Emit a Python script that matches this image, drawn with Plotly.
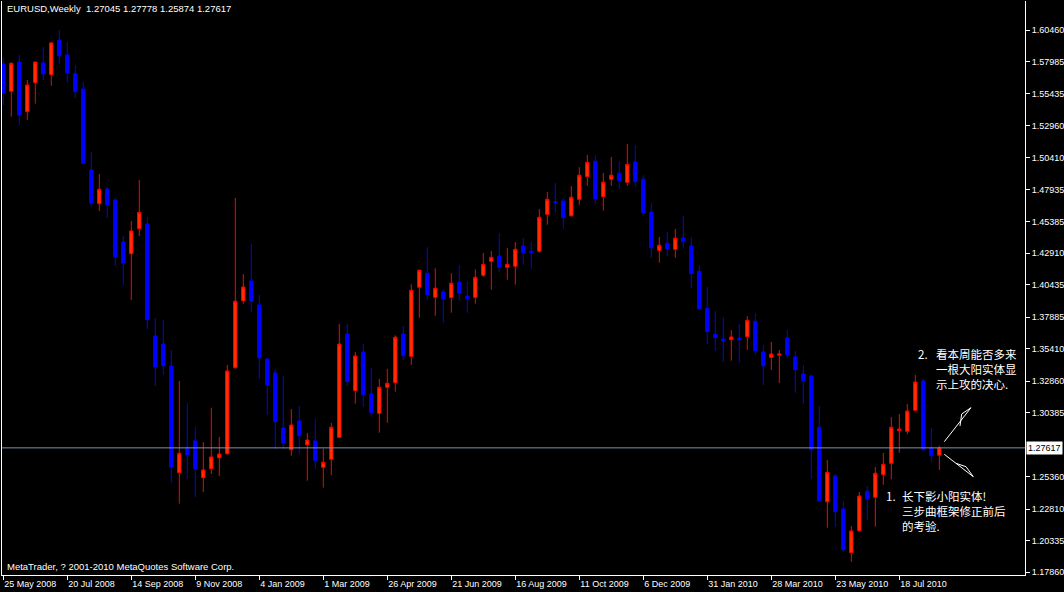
import plotly.graph_objects as go

# ---------------- data (EURUSD weekly) ----------------
opens = [1.5779, 1.5564, 1.5794, 1.5404, 1.5632, 1.5787, 1.5695, 1.5967, 1.5850, 1.5702,
         1.5582, 1.4946, 1.4681, 1.4796, 1.4710, 1.4380, 1.4288, 1.4484, 1.4521, 1.3641,
         1.3578, 1.3405, 1.2566, 1.2766, 1.2816, 1.2527, 1.2598, 1.2684, 1.2716, 1.3392,
         1.3918, 1.4073, 1.3885, 1.3460, 1.3350, 1.2918, 1.2747, 1.2973, 1.2787, 1.2816,
         1.2609, 1.2672, 1.2845, 1.3657, 1.3211, 1.3515, 1.3185, 1.3033, 1.3238, 1.3274,
         1.3657, 1.3481, 1.4024, 1.4134, 1.3945, 1.3987, 1.3943, 1.4063, 1.3955, 1.3945,
         1.4118, 1.4228, 1.4270, 1.4181, 1.4189, 1.4348, 1.4307, 1.4307, 1.4597, 1.4696,
         1.4702, 1.4586, 1.4715, 1.4893, 1.5014, 1.4736, 1.4873, 1.4920, 1.4849, 1.5009,
         1.4873, 1.4615, 1.4314, 1.4370, 1.4322, 1.4411, 1.4348, 1.4149, 1.3859, 1.3654,
         1.3617, 1.3612, 1.3625, 1.3635, 1.3756, 1.3515, 1.3473, 1.3490, 1.3625, 1.3476,
         1.3342, 1.3326, 1.2923, 1.2338, 1.2540, 1.2281, 1.1938, 1.2111, 1.2420, 1.2373,
         1.2551, 1.2640, 1.2897, 1.2892, 1.3057, 1.3287, 1.2763, 1.27045]
highs = [1.5828, 1.5790, 1.5850, 1.5653, 1.5796, 1.5912, 1.5952, 1.6046, 1.5952, 1.5771,
         1.5637, 1.5087, 1.4914, 1.4812, 1.4723, 1.4427, 1.4545, 1.4867, 1.4576, 1.3782,
         1.3767, 1.3531, 1.3287, 1.3114, 1.2926, 1.2808, 1.3077, 1.2847, 1.3413, 1.4726,
         1.4128, 1.4366, 1.3963, 1.3462, 1.3382, 1.3326, 1.3067, 1.3091, 1.2878, 1.2989,
         1.2755, 1.2957, 1.3735, 1.3735, 1.3515, 1.3578, 1.3389, 1.3303, 1.3382, 1.3646,
         1.3719, 1.4047, 1.4165, 1.4338, 1.4173, 1.4008, 1.4134, 1.4199, 1.4073, 1.4165,
         1.4293, 1.4309, 1.4450, 1.4333, 1.4380, 1.4411, 1.4380, 1.4639, 1.4773, 1.4843,
         1.4726, 1.4820, 1.4967, 1.5064, 1.5061, 1.4922, 1.5048, 1.5016, 1.5150, 1.5142,
         1.4904, 1.4686, 1.4419, 1.4458, 1.4482, 1.4584, 1.4419, 1.4199, 1.4026, 1.3837,
         1.3790, 1.3688, 1.3735, 1.3798, 1.3822, 1.3570, 1.3594, 1.3531, 1.3688, 1.3523,
         1.3413, 1.3334, 1.3091, 1.2666, 1.2556, 1.2344, 1.2147, 1.2415, 1.2462, 1.2611,
         1.2721, 1.3004, 1.3028, 1.3106, 1.3334, 1.3303, 1.2920, 1.27778]
lows = [1.5457, 1.5365, 1.5302, 1.5339, 1.5467, 1.5653, 1.5608, 1.5781, 1.5632, 1.5514,
        1.4993, 1.4655, 1.4623, 1.4571, 1.4191, 1.4042, 1.3924, 1.4427, 1.3696, 1.3248,
        1.3334, 1.2488, 1.2323, 1.2517, 1.2375, 1.2415, 1.2556, 1.2540, 1.2706, 1.3382,
        1.3895, 1.3830, 1.3303, 1.3020, 1.2753, 1.2753, 1.2700, 1.2716, 1.2504, 1.2598,
        1.2449, 1.2548, 1.2840, 1.3250, 1.3109, 1.3085, 1.3007, 1.2881, 1.2959, 1.3203,
        1.3455, 1.3415, 1.3785, 1.3926, 1.3800, 1.3745, 1.3824, 1.3926, 1.3824, 1.3895,
        1.4107, 1.4005, 1.4146, 1.4083, 1.4044, 1.4201, 1.4170, 1.4296, 1.4516, 1.4608,
        1.4484, 1.4579, 1.4673, 1.4822, 1.4681, 1.4626, 1.4822, 1.4799, 1.4822, 1.4814,
        1.4586, 1.4256, 1.4217, 1.4270, 1.4256, 1.4335, 1.4021, 1.3850, 1.3580, 1.3525,
        1.3439, 1.3447, 1.3431, 1.3533, 1.3494, 1.3256, 1.3374, 1.3271, 1.3470, 1.3195,
        1.3109, 1.2519, 1.2340, 1.2134, 1.2142, 1.1945, 1.1867, 1.2103, 1.2197, 1.2142,
        1.2472, 1.2515, 1.2724, 1.2868, 1.3049, 1.2739, 1.2653, 1.25874]
closes = [1.5553, 1.5784, 1.5378, 1.5614, 1.5794, 1.5702, 1.5944, 1.5844, 1.5708, 1.5561,
          1.4998, 1.4686, 1.4794, 1.4671, 1.4262, 1.4215, 1.4466, 1.4613, 1.3769, 1.3397,
          1.3407, 1.2611, 1.2719, 1.2708, 1.2596, 1.2588, 1.2690, 1.2713, 1.3366, 1.3914,
          1.4026, 1.3916, 1.3470, 1.3256, 1.2967, 1.2800, 1.2941, 1.2857, 1.2823, 1.2661,
          1.2648, 1.2923, 1.3578, 1.3282, 1.3484, 1.3180, 1.3038, 1.3238, 1.3269, 1.3631,
          1.3486, 1.4000, 1.4157, 1.3966, 1.4016, 1.3934, 1.4055, 1.3977, 1.3934, 1.4102,
          1.4204, 1.4259, 1.4181, 1.4204, 1.4322, 1.4296, 1.4296, 1.4574, 1.4715, 1.4689,
          1.4571, 1.4731, 1.4904, 1.5006, 1.4720, 1.4849, 1.4904, 1.4862, 1.4990, 1.4854,
          1.4610, 1.4335, 1.4354, 1.4327, 1.4409, 1.4382, 1.4131, 1.3855, 1.3675, 1.3628,
          1.3602, 1.3633, 1.3612, 1.3764, 1.3525, 1.3407, 1.3499, 1.3500, 1.3494, 1.3376,
          1.3287, 1.2747, 1.2346, 1.2570, 1.2260, 1.1961, 1.2108, 1.2383, 1.2362, 1.2562,
          1.2632, 1.2923, 1.2910, 1.3051, 1.3279, 1.2747, 1.2700, 1.27617]

date_labels = ["25 May 2008", "20 Jul 2008", "14 Sep 2008", "9 Nov 2008", "4 Jan 2009",
               "1 Mar 2009", "26 Apr 2009", "21 Jun 2009", "16 Aug 2009", "11 Oct 2009",
               "6 Dec 2009", "31 Jan 2010", "28 Mar 2010", "23 May 2010", "18 Jul 2010"]
date_label_bars = [0, 8, 16, 24, 32, 40, 48, 56, 64, 72, 80, 88, 96, 104, 112]

price_ticks = [1.60460, 1.57985, 1.55435, 1.52960, 1.50410, 1.47935, 1.45385, 1.42910,
               1.40435, 1.37885, 1.35410, 1.32860, 1.30385, 1.25360, 1.22810, 1.20335,
               1.17860]
current_price = 1.27617
title_text = "EURUSD,Weekly  1.27045 1.27778 1.25874 1.27617"
footer_text = "MetaTrader, ? 2001-2010 MetaQuotes Software Corp."
note2_lines = ["看本周能否多来", "一根大阳实体显", "示上攻的决心."]
note1_lines = ["长下影小阳实体!", "三步曲框架修正前后", "的考验."]

bars = list(range(len(opens)))

# ---------------- layout geometry ----------------
W, H = 1064, 592
ML, MR, MT, MB = 2, 39, 1, 17
PW, PH = W - ML - MR, H - MT - MB


def px(xp):
    return (xp - ML) / PW


def py(yp):
    return (H - MB - yp) / PH


fig = go.Figure()
fig.add_trace(go.Candlestick(
    x=bars, open=opens, high=highs, low=lows, close=closes,
    increasing=dict(line=dict(color="#FF0000", width=1), fillcolor="#FF3300"),
    decreasing=dict(line=dict(color="#0000FF", width=1), fillcolor="#0000FF"),
    whiskerwidth=0, hoverinfo="skip", showlegend=False,
))

axis_font = dict(family="Liberation Sans, Arial, sans-serif", size=9, color="white")

fig.update_layout(
    width=W, height=H, autosize=False,
    margin=dict(l=ML, r=MR, t=MT, b=MB, pad=0),
    paper_bgcolor="black", plot_bgcolor="black",
    boxgap=0.4,
    showlegend=False,
    xaxis=dict(
        range=[-0.1625, 127.71], rangeslider=dict(visible=False),
        tickmode="array", tickvals=date_label_bars, ticktext=date_labels,
        ticks="outside", ticklen=4, tickcolor="white", tickwidth=1,
        ticklabelposition="outside right",
        showline=True, linecolor="white", linewidth=1, mirror=False,
        showgrid=False, zeroline=False, tickfont=axis_font,
    ),
    yaxis=dict(
        range=[1.17624, 1.62739], side="right",
        tickmode="array", tickvals=price_ticks,
        ticktext=["%.5f" % v for v in price_ticks],
        ticks="outside", ticklen=4, tickcolor="white", tickwidth=1,
        showline=True, linecolor="white", linewidth=1, mirror=True,
        showgrid=False, zeroline=False, tickfont=axis_font,
    ),
)

# current price line
fig.add_shape(type="line", xref="paper", yref="y", x0=0, x1=1,
              y0=current_price, y1=current_price,
              line=dict(color="#8091AE", width=1))

# current price label
fig.add_annotation(xref="paper", yref="y", x=1, y=current_price, xanchor="left",
                   xshift=1, text="%.5f" % current_price, showarrow=False,
                   bgcolor="white", font=dict(family="Liberation Sans, Arial", size=9, color="black"),
                   borderpad=1)

# title & footer
fig.add_annotation(xref="paper", yref="paper", x=px(5), y=py(9), xanchor="left",
                   yanchor="middle", text=title_text, showarrow=False,
                   font=dict(family="Liberation Sans, Arial", size=9.5, color="white"))
fig.add_annotation(xref="paper", yref="paper", x=px(5), y=py(566), xanchor="left",
                   yanchor="middle", text=footer_text, showarrow=False,
                   font=dict(family="Liberation Sans, Arial", size=9.5, color="white"))

cjk = dict(family="Noto Sans CJK SC", size=11.5, color="white")
# note 2
fig.add_annotation(xref="paper", yref="paper", x=px(929), y=py(345), xanchor="right",
                   yanchor="top", text="2.", showarrow=False, font=cjk, borderpad=0)
fig.add_annotation(xref="paper", yref="paper", x=px(935), y=py(345), xanchor="left",
                   yanchor="top", text="<br>".join(note2_lines), align="left",
                   showarrow=False, font=cjk, borderpad=0)
# note 1
fig.add_annotation(xref="paper", yref="paper", x=px(897), y=py(487), xanchor="right",
                   yanchor="top", text="1.", showarrow=False, font=cjk, borderpad=0)
fig.add_annotation(xref="paper", yref="paper", x=px(901), y=py(487), xanchor="left",
                   yanchor="top", text="<br>".join(note1_lines), align="left",
                   showarrow=False, font=cjk, borderpad=0)

# hand-drawn arrows
arrow_paths = [
    [(944.3, 441.7), (971.0, 407.7)],
    [(960.0, 426.0), (961.7, 414.0), (971.0, 407.7)],
    [(944.3, 454.3), (973.3, 476.7)],
    [(956.0, 463.3), (966.0, 466.7), (973.3, 476.7)],
]
for pts in arrow_paths:
    d = "M " + " L ".join("%.5f,%.5f" % (px(a), py(b)) for a, b in pts)
    fig.add_shape(type="path", xref="paper", yref="paper", path=d,
                  line=dict(color="white", width=1))

fig.write_html("out.html", config={"displayModeBar": False})

with open("out.html", "r", encoding="utf-8") as f:
    html = f.read()
html = html.replace("<head>", "<head><style>html,body{margin:0;padding:0;overflow:hidden;background:black}</style>", 1)
with open("out.html", "w", encoding="utf-8") as f:
    f.write(html)
